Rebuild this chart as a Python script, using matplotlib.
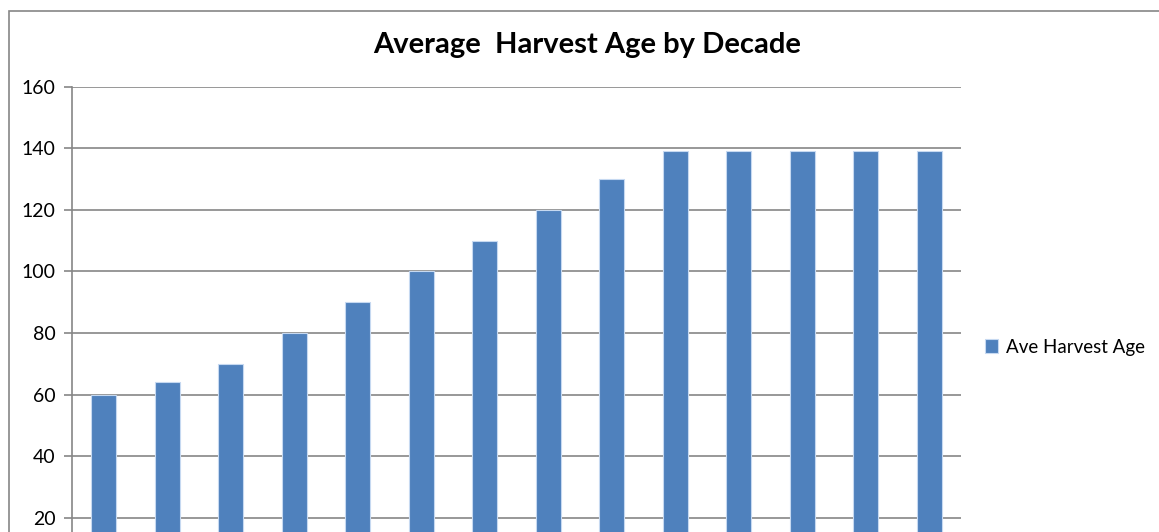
import matplotlib.pyplot as plt
from matplotlib.patches import Rectangle

# Данные (подписи по оси X обрезаны на исходной картинке)
decades = [str(i) for i in range(1, 15)]
ave_harvest_age = [60, 64, 70, 80, 90, 100, 110, 120, 130, 139, 139, 139, 139, 139]

W, H = 1159, 532
fig = plt.figure(figsize=(W / 100, H / 100), dpi=100)
plt.rcParams['font.family'] = ['Lato', 'DejaVu Sans']

# Рамка области диаграммы (уходит за правый и нижний край)
fig.patches.append(Rectangle((8.5 / W, -0.2), 1.2, 1.2 - 10.5 / H,
                             transform=fig.transFigure, fill=False,
                             edgecolor='#868686', linewidth=1.2))

# Ось уходит ниже края картинки, как на исходнике
ax = fig.add_axes([72 / W, -0.0895, 889 / W, 0.9269])
x = range(len(decades))
ax.bar(x, ave_harvest_age, width=0.39, color='#4F81BD', edgecolor='#c6d9f1',
       linewidth=0.8, label='Ave Harvest Age', zorder=3)

ax.set_xlim(-0.5, len(decades) - 0.5)
ax.set_ylim(0, 160)
ax.set_yticks(range(20, 161, 20))
ax.set_xticks([])
ax.grid(axis='y', color='#868686', linewidth=1.2, zorder=0)
for s in ['top', 'right', 'bottom']:
    ax.spines[s].set_visible(False)
ax.spines['left'].set_color('#868686')
ax.spines['left'].set_linewidth(1.2)
ax.tick_params(axis='y', length=6, width=1.2, color='#868686', labelsize=14, pad=6)

fig.text(587 / W, 1 - 45 / H, 'Average  Harvest Age by Decade', ha='center', va='center',
         fontsize=21, fontweight='bold')

ax.legend(loc='center left', bbox_to_anchor=(968 / W, 1 - 347 / H), bbox_transform=fig.transFigure,
          frameon=False, fontsize=13.5, handlelength=0.7, handleheight=0.7, handletextpad=0.4)

fig.savefig('out.png', dpi=100)
